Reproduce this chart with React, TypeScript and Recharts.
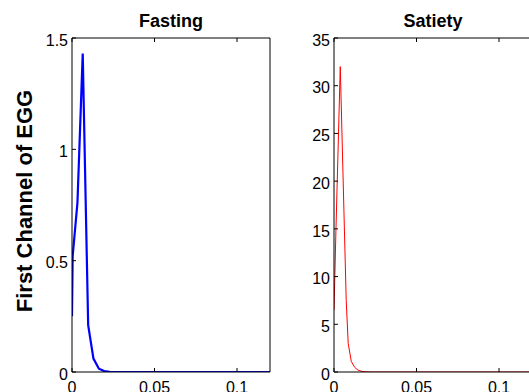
import { LineChart, Line, XAxis, YAxis } from "recharts";

// frequency axis samples and spectrum values for each condition
const fastingFreq = [0, 0.0004, 0.0033, 0.0065, 0.0098, 0.013, 0.0163, 0.0195, 0.0228, 0.026, 0.05, 0.08, 0.12];
const fastingPower = [0.25, 0.52, 0.76, 1.43, 0.21, 0.06, 0.015, 0.004, 0.001, 0, 0, 0, 0];

const satietyFreq = [0, 0.0012, 0.0038, 0.0074, 0.0086, 0.0105, 0.0125, 0.0145, 0.017, 0.02, 0.024, 0.05, 0.08, 0.12];
const satietyPower = [6.5, 15, 32, 7.5, 3, 1.1, 0.5, 0.2, 0.06, 0.01, 0, 0, 0, 0];

const xTicks = [0, 0.05, 0.1];
const fastingTicks = [0, 0.5, 1, 1.5];
const satietyTicks = [0, 5, 10, 15, 20, 25, 30, 35];

const FONT = "Arial, 'Liberation Sans', sans-serif";
const tickStyle = { fontSize: 16, fill: "#000", fontFamily: FONT };

const toRows = (xs: number[], ys: number[]) => xs.map((f, i) => ({ f, v: ys[i] }));

// keeps the tick marks on the box edges but draws no label
const NoLabel = () => <g />;

function YTick(props: any) {
    const { x, y, payload } = props;
    return (
        <text x={x} y={y + 2} dy="0.355em" textAnchor="end" {...tickStyle}>
            {String(payload.value)}
        </text>
    );
}

function YTitle() {
    return (
        <text
            x={24}
            y={201}
            transform="rotate(-90 24 201)"
            textAnchor="middle"
            dominantBaseline="central"
            fontFamily={FONT}
            fontWeight="bold"
            fontSize={22}
            fill="#000"
        >
            First Channel of EGG
        </text>
    );
}

type PanelProps = {
    title: string;
    rows: { f: number; v: number }[];
    yTicks: number[];
    color: string;
    width: number;
    marginLeft: number;
    marginRight: number;
    yLabel?: boolean;
};

function Panel({ title, rows, yTicks, color, width, marginLeft, marginRight, yLabel }: PanelProps) {
    const yMax = yTicks[yTicks.length - 1];
    return (
        <LineChart
            width={280}
            height={392}
            data={rows}
            margin={{ top: 37, right: marginRight, bottom: 0, left: marginLeft }}
        >
            <XAxis
                dataKey="f"
                type="number"
                domain={[0, 0.12]}
                ticks={xTicks}
                allowDataOverflow
                height={20}
                tickSize={-4}
                tickMargin={14}
                tick={tickStyle}
                stroke="#000"
                tickFormatter={(t: number) => String(t)}
            />
            <XAxis
                xAxisId="top"
                orientation="top"
                dataKey="f"
                type="number"
                domain={[0, 0.12]}
                ticks={xTicks}
                allowDataOverflow
                height={1}
                tickSize={-4}
                tick={NoLabel}
                stroke="#000"
                label={{ value: title, position: "top", offset: 10, fontFamily: FONT, fontWeight: "bold", fontSize: 18, fill: "#000" }}
            />
            <YAxis
                type="number"
                domain={[0, yMax]}
                ticks={yTicks}
                allowDataOverflow
                width={40}
                tickSize={-4}
                tickMargin={8}
                tick={YTick}
                stroke="#000"
                label={yLabel ? <YTitle /> : undefined}
            />
            <YAxis
                yAxisId="r"
                orientation="right"
                type="number"
                domain={[0, yMax]}
                ticks={yTicks}
                width={1}
                tickSize={-4}
                tick={NoLabel}
                stroke="#000"
            />
            <Line
                type="linear"
                dataKey="v"
                stroke={color}
                strokeWidth={width}
                dot={false}
                isAnimationActive={false}
            />
        </LineChart>
    );
}

export default function App() {
    return (
        <div style={{ position: "absolute", left: 0, top: 0, width: 529, height: 392, overflow: "hidden", background: "#fff" }}>
            <div style={{ position: "absolute", left: 0, top: 0 }}>
                <Panel
                    title="Fasting"
                    rows={toRows(fastingFreq, fastingPower)}
                    yTicks={fastingTicks}
                    color="#0000ff"
                    width={2.2}
                    marginLeft={32}
                    marginRight={9}
                    yLabel
                />
            </div>
            <div style={{ position: "absolute", left: 280, top: 0 }}>
                <Panel
                    title="Satiety"
                    rows={toRows(satietyFreq, satietyPower)}
                    yTicks={satietyTicks}
                    color="#ff0000"
                    width={1}
                    marginLeft={14}
                    marginRight={27}
                />
            </div>
        </div>
    );
}
